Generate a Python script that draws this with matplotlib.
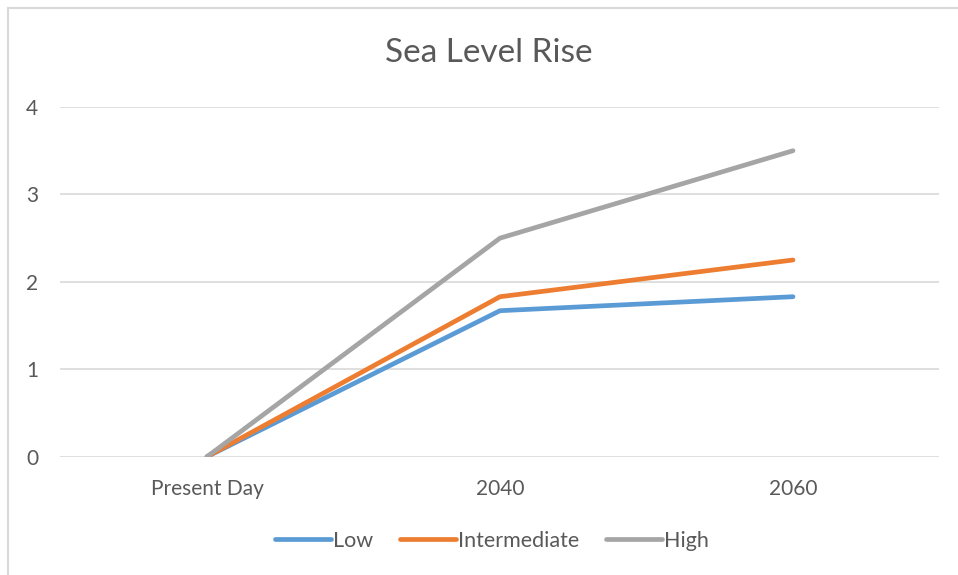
import numpy as np
import matplotlib.pyplot as plt
from matplotlib.patches import Rectangle

# projected rise per scenario
categories = ["Present Day", "2040", "2060"]
low = [0, 1.67, 1.83]
intermediate = [0, 1.83, 2.25]
high = [0, 2.5, 3.5]

series_names = ["Low", "Intermediate", "High"]
colors = ["#5B9BD5", "#ED7D31", "#A5A5A5"]

plt.rcParams['font.family'] = ['Lato', 'DejaVu Sans']

fig = plt.figure(figsize=(9.58, 5.75), dpi=100)
W, H = 958, 575

# chart border (top/left visible)
fig.patches.append(Rectangle((8 / W, -0.1), 1.2, 1 - 8 / H + 0.1,
                             transform=fig.transFigure, fill=False,
                             edgecolor="#d9d9d9", linewidth=1.5))

# plot area in pixels
left, right, top, bottom = 60.5, 939.5, 107, 456.7
ax = fig.add_axes([left / W, 1 - bottom / H, (right - left) / W, (bottom - top) / H])

x = np.arange(len(categories))
for vals, name, c in zip([low, intermediate, high], series_names, colors):
    ax.plot(x, vals, color=c, linewidth=3.4, solid_capstyle="round",
            solid_joinstyle="round", label=name)

ax.set_xlim(-0.5, len(categories) - 0.5)
ax.set_ylim(0, 4)
ax.set_yticks([0, 1, 2, 3, 4])
ax.set_xticks(x)
ax.set_xticklabels(categories)
ax.grid(axis="y", color="#d9d9d9", linewidth=1.2)
ax.set_axisbelow(True)
for s in ax.spines.values():
    s.set_visible(False)
ax.tick_params(length=0, labelsize=15, colors="#595959")
ax.tick_params(axis="y", pad=16)
ax.tick_params(axis="x", pad=16)

fig.text(489 / W, 1 - 53 / H, "Sea Level Rise", ha="center", va="center",
         fontsize=24, color="#595959")

fig.legend(loc="center", bbox_to_anchor=(492 / W, 1 - 541 / H), ncol=3,
           frameon=False, fontsize=15.5, handlelength=2.6, handletextpad=0.1,
           columnspacing=1.25, labelcolor="#595959")

fig.savefig("out.png", dpi=100)
